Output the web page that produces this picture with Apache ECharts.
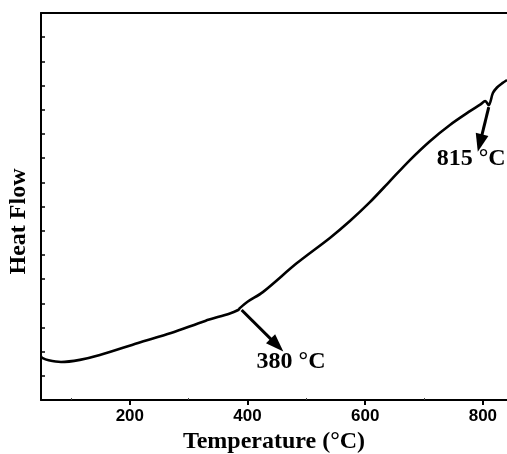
<!DOCTYPE html>
<html>
<head>
<meta charset="utf-8">
<script src="https://cdn.jsdelivr.net/npm/echarts@6/dist/echarts.min.js"></script>
<style>
  html, body { margin: 0; padding: 0; background: #fff; }
  #chart { width: 507px; height: 454px; }
</style>
</head>
<body>
<div id="chart"></div>
<script>
// DSC curve (temperature in °C, heat flow in arbitrary units)
var temps = [49, 51, 62, 83, 115, 149, 214, 270, 328, 370, 384, 387, 400, 426, 484, 540, 574, 608, 642, 676, 710, 744, 778, 796, 804, 810, 817, 824, 833, 841];
var heat  = [1.80, 1.74, 1.64, 1.57, 1.66, 1.86, 2.36, 2.77, 3.27, 3.58, 3.72, 3.80, 4.06, 4.46, 5.66, 6.70, 7.40, 8.18, 9.05, 9.92, 10.70, 11.37, 11.94, 12.22, 12.36, 12.19, 12.69, 12.92, 13.10, 13.23];

var majorTicks = [200, 400, 600, 800];
var minorTicks = [100, 300, 500, 700];

// arrows: [from, to] as [temperature, heat]
var arrow380 = [[390, 3.72], [450, 2.27]];
var arrow815 = [[810, 12.11], [795, 10.62]];
var peakLabels = [
  { text: '380 °C', at: [474, 1.57] },
  { text: '815 °C', at: [780, 9.96] }
];

var serif = 'Liberation Serif, Times New Roman, serif';
var sans = 'Liberation Sans, Arial, sans-serif';

var chart = echarts.init(document.getElementById('chart'));

var points = [];
for (var i = 0; i < temps.length; i++) {
  points.push([temps[i], heat[i]]);
}

var option = {
  animation: false,
  backgroundColor: '#fff',
  grid: { left: 41, right: 0, top: 13, bottom: 54, containLabel: false, outerBoundsMode: 'none' },
  xAxis: [
    {
      type: 'value',
      min: 49,
      max: 841,
      position: 'bottom',
      name: 'Temperature (°C)',
      nameLocation: 'middle',
      nameGap: 29,
      nameTextStyle: { fontFamily: serif, fontWeight: 'bold', fontSize: 24, color: '#000' },
      axisLine: { show: true, lineStyle: { color: '#000', width: 2 } },
      axisTick: { show: true, customValues: majorTicks, length: 5, lineStyle: { color: '#000', width: 2 } },
      axisLabel: { customValues: majorTicks, fontFamily: sans, fontWeight: 'bold', fontSize: 17, color: '#000', margin: 8 },
      splitLine: { show: false }
    },
    {
      type: 'value',
      min: 49,
      max: 841,
      position: 'bottom',
      axisLine: { show: false },
      axisTick: { show: true, inside: true, customValues: minorTicks, length: 2, lineStyle: { color: '#444', width: 1 } },
      axisLabel: { show: false },
      splitLine: { show: false }
    },
    {
      type: 'value',
      min: 49,
      max: 841,
      position: 'top',
      axisLine: { show: true, lineStyle: { color: '#000', width: 2 } },
      axisTick: { show: false },
      axisLabel: { show: false },
      splitLine: { show: false }
    }
  ],
  yAxis: {
    type: 'value',
    min: 0,
    max: 16,
    interval: 1,
    name: 'Heat Flow',
    nameLocation: 'middle',
    nameGap: 10,
    nameTextStyle: { fontFamily: serif, fontWeight: 'bold', fontSize: 24, color: '#000', padding: [0, 30, 0, 0] },
    axisLine: { show: true, lineStyle: { color: '#000', width: 2 } },
    axisTick: { show: true, inside: true, length: 4, lineStyle: { color: '#000', width: 1.5 } },
    axisLabel: { show: false },
    splitLine: { show: false }
  },
  series: [
    {
      type: 'line',
      data: points,
      smooth: 0.3,
      showSymbol: false,
      lineStyle: { color: '#000', width: 2.6 },
      markLine: {
        silent: true,
        symbol: ['none', 'triangle'],
        symbolSize: [13, 18],
        lineStyle: { color: '#000', width: 3, type: 'solid' },
        label: { show: false },
        data: [
          [{ coord: arrow380[0] }, { coord: arrow380[1] }],
          [{ coord: arrow815[0] }, { coord: arrow815[1] }]
        ]
      },
      markPoint: {
        silent: true,
        symbol: 'circle',
        symbolSize: 0,
        label: {
          show: true,
          position: 'inside',
          fontFamily: serif,
          fontWeight: 'bold',
          fontSize: 24,
          color: '#000',
          formatter: function (p) { return p.name; }
        },
        data: peakLabels.map(function (d) { return { name: d.text, coord: d.at }; })
      }
    }
  ]
};

chart.setOption(option);
</script>
</body>
</html>
